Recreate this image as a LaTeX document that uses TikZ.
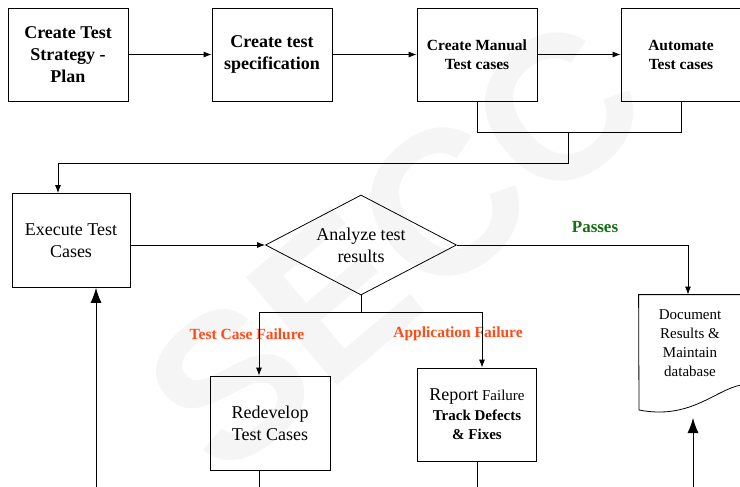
\documentclass[tikz,border=0pt]{standalone}
\usepackage{fontspec}
\setmainfont{Liberation Serif}
\newfontfamily\marksans{Liberation Sans}
\usetikzlibrary{positioning,shapes.geometric,arrows.meta}
\definecolor{failred}{RGB}{255,75,25}
\definecolor{passgreen}{RGB}{20,110,20}

\begin{document}
\begin{tikzpicture}[
     x=1pt, y=-1pt,
     % define styles
     stepbox/.style={
         draw, rectangle, align=center,
         minimum width=120pt, minimum height=93pt,
         inner sep=2pt
     },
     decide/.style={
         draw, diamond, align=center, aspect=1.9,
         minimum width=191pt, minimum height=100pt,
         inner sep=0pt
     },
     bighead/.style={font=\fontsize{18}{22}\selectfont\bfseries},
     midhead/.style={font=\fontsize{15.5}{19}\selectfont\bfseries},
     plaintext/.style={font=\fontsize{18}{22}\selectfont},
     failtag/.style={text=failred, font=\fontsize{15.5}{18}\selectfont\bfseries},
     passtag/.style={text=passgreen, font=\fontsize{17}{20}\selectfont\bfseries},
     line width=0.8pt,
     >={Latex[length=8pt,width=6pt]},
     uparrow/.style={-{Latex[length=15pt,width=11pt]}}
]
\useasboundingbox (0,0) rectangle (740,487);
\clip (0,0) rectangle (740,487);

% watermark
\node[rotate=40, text=black!4, font=\marksans\bfseries\fontsize{205}{205}\selectfont] (mark) at (395,245) {SECC};

% top row
\node[stepbox, bighead] (strategy) at (68,54.5) {Create Test\\Strategy -\\Plan};
\node[stepbox, bighead] (spec) at (272,54.5) {Create test\\specification};
\node[stepbox, midhead] (manual) at (477,54.5) {Create Manual\\Test cases};
\node[stepbox, midhead] (automate) at (681,54.5) {Automate\\Test cases};

% middle row
\node[stepbox, plaintext, minimum width=118pt, minimum height=94pt] (execute) at (71,240.5) {Execute Test\\Cases};
\node[decide, plaintext] (analyze) at (361,245) {Analyze test\\results};
\node[align=center, font=\fontsize{15}{19}\selectfont, minimum width=102pt, minimum height=97pt, inner sep=0pt] (doc) at (690,343.5) {Document\\Results \&\\Maintain\\database};
\draw (doc.north west) -- (doc.north east) -- (741,385)
      .. controls (715,390) and (690,420) .. (639,410) -- cycle;

% bottom row
\node[stepbox, plaintext, minimum height=94pt] (redevelop) at (270,423) {Redevelop\\Test Cases};
\node[stepbox, font=\fontsize{15}{19.5}\selectfont, minimum width=119pt] (report) at (477,414.5)
     {{\fontsize{18}{19.5}\selectfont Report} Failure\\\textbf{Track Defects}\\\textbf{\& Fixes}};

% labels
\node[passtag] (passes) at (595,227) {Passes};
\node[failtag] (tcfail) at (247,334) {Test Case Failure};
\node[failtag] (apfail) at (458,334) {Application Failure};

% connectors
\draw[->] (strategy) -- (spec);
\draw[->] (spec) -- (manual);
\draw[->] (manual) -- (automate);
\draw (manual.south) -- ++(0,31) -| (automate.south);
\coordinate (joinM) at (568,132.5);
\draw[->] (joinM) -- ++(0,30.5) -| ([xshift=-13pt]execute.north);
\draw[->] (analyze.west -| execute.east) -- (analyze.west);
\draw[->] (analyze.east) -| ([xshift=-2pt]doc.north);
\draw (analyze.south) -- ++(0,17) coordinate (split);
\draw[->] (split) -| ([xshift=-11pt]redevelop.north);
\draw[->] (split) -| ([xshift=5pt]report.north);
\draw ([xshift=-11pt]redevelop.south) -- ++(0,20);
\draw (report.south) -- ++(0,30);
\coordinate (backL) at (96,487);
\draw[uparrow] (backL) -- (backL |- execute.south);
\coordinate (backR) at (693,487);
\coordinate (docbase) at (693,418);
\draw[uparrow] (backR) -- (docbase);
\end{tikzpicture}
\end{document}
